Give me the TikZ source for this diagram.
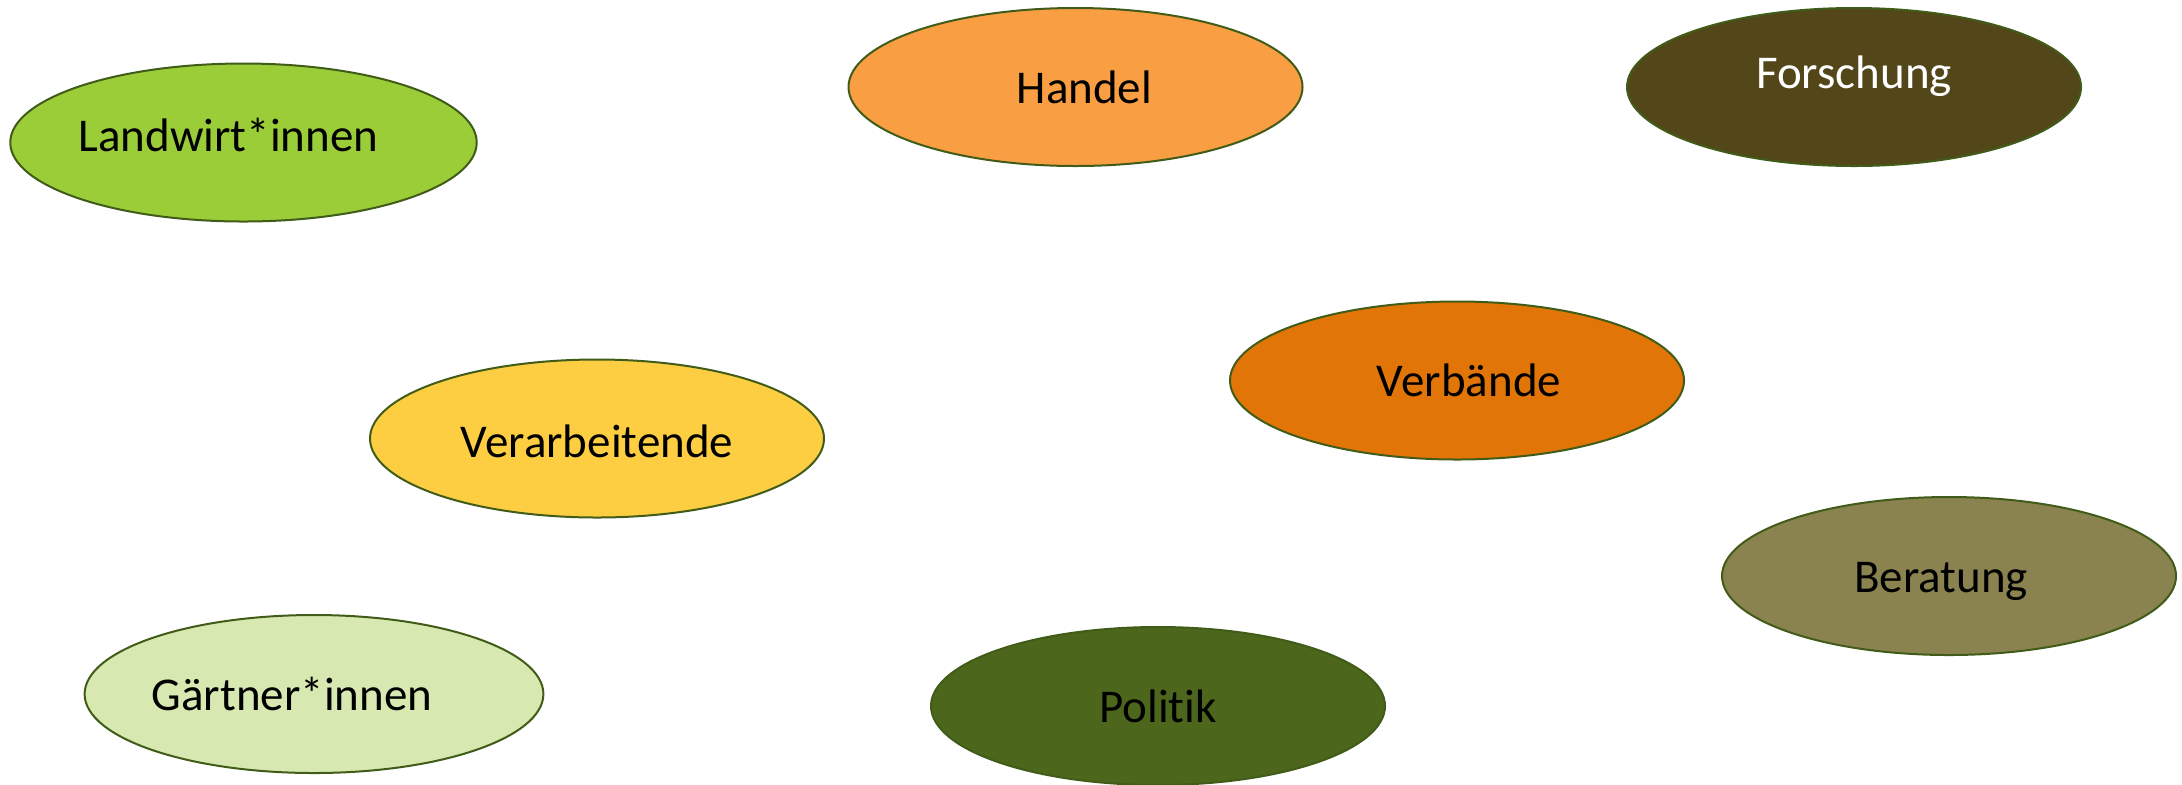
\documentclass[tikz,border=0pt]{standalone}
\usepackage{fontspec}
\setmainfont{Carlito}[Ligatures=NoCommon]
\usetikzlibrary{shapes.geometric}
\definecolor{rimgreen}{HTML}{405C18}
\definecolor{farmgreen}{HTML}{9ACD38}
\definecolor{tradeorange}{HTML}{F99E42}
\definecolor{researchbrown}{HTML}{53471A}
\definecolor{unionorange}{HTML}{E27507}
\definecolor{processyellow}{HTML}{FECE42}
\definecolor{adviceolive}{HTML}{8A834F}
\definecolor{gardenlight}{HTML}{D7E9B0}
\definecolor{policygreen}{HTML}{4C661C}
\begin{document}
\begin{tikzpicture}[
      x=0.5pt, y=-0.5pt,
      every node/.style={ellipse, draw=rimgreen, line width=1pt,
        minimum width=227pt, minimum height=79pt, inner sep=0pt,
        font=\fontsize{23.5}{28}\selectfont,
        text height=16pt, text depth=0pt},
    ]
      \useasboundingbox (0,0) rectangle (2182,784);
      \node[fill=farmgreen, text height=8.5pt] (landwirt) at (243.5,142.5) {Landwirt*innen\hspace*{15pt}};
      \node[fill=tradeorange] (handel) at (1075.5,87) {\hspace*{9pt}Handel};
      \node[fill=researchbrown, text=white, text height=8.5pt, text depth=7.5pt] (forschung) at (1854,87) {Forschung};
      \node[fill=unionorange] (verbaende) at (1457,380.5) {\hspace*{12pt}Verbände};
      \node[fill=processyellow, text height=18.5pt] (verarbeitende) at (597,438.5) {Verarbeitende};
      \node[fill=adviceolive] (beratung) at (1949,576) {Beratung\hspace*{8pt}};
      \node[fill=gardenlight] (gaertner) at (314,694) {Gärtner*innen\hspace*{22pt}};
      \node[fill=policygreen] (politik) at (1158,706) {Politik};
\end{tikzpicture}
\end{document}
